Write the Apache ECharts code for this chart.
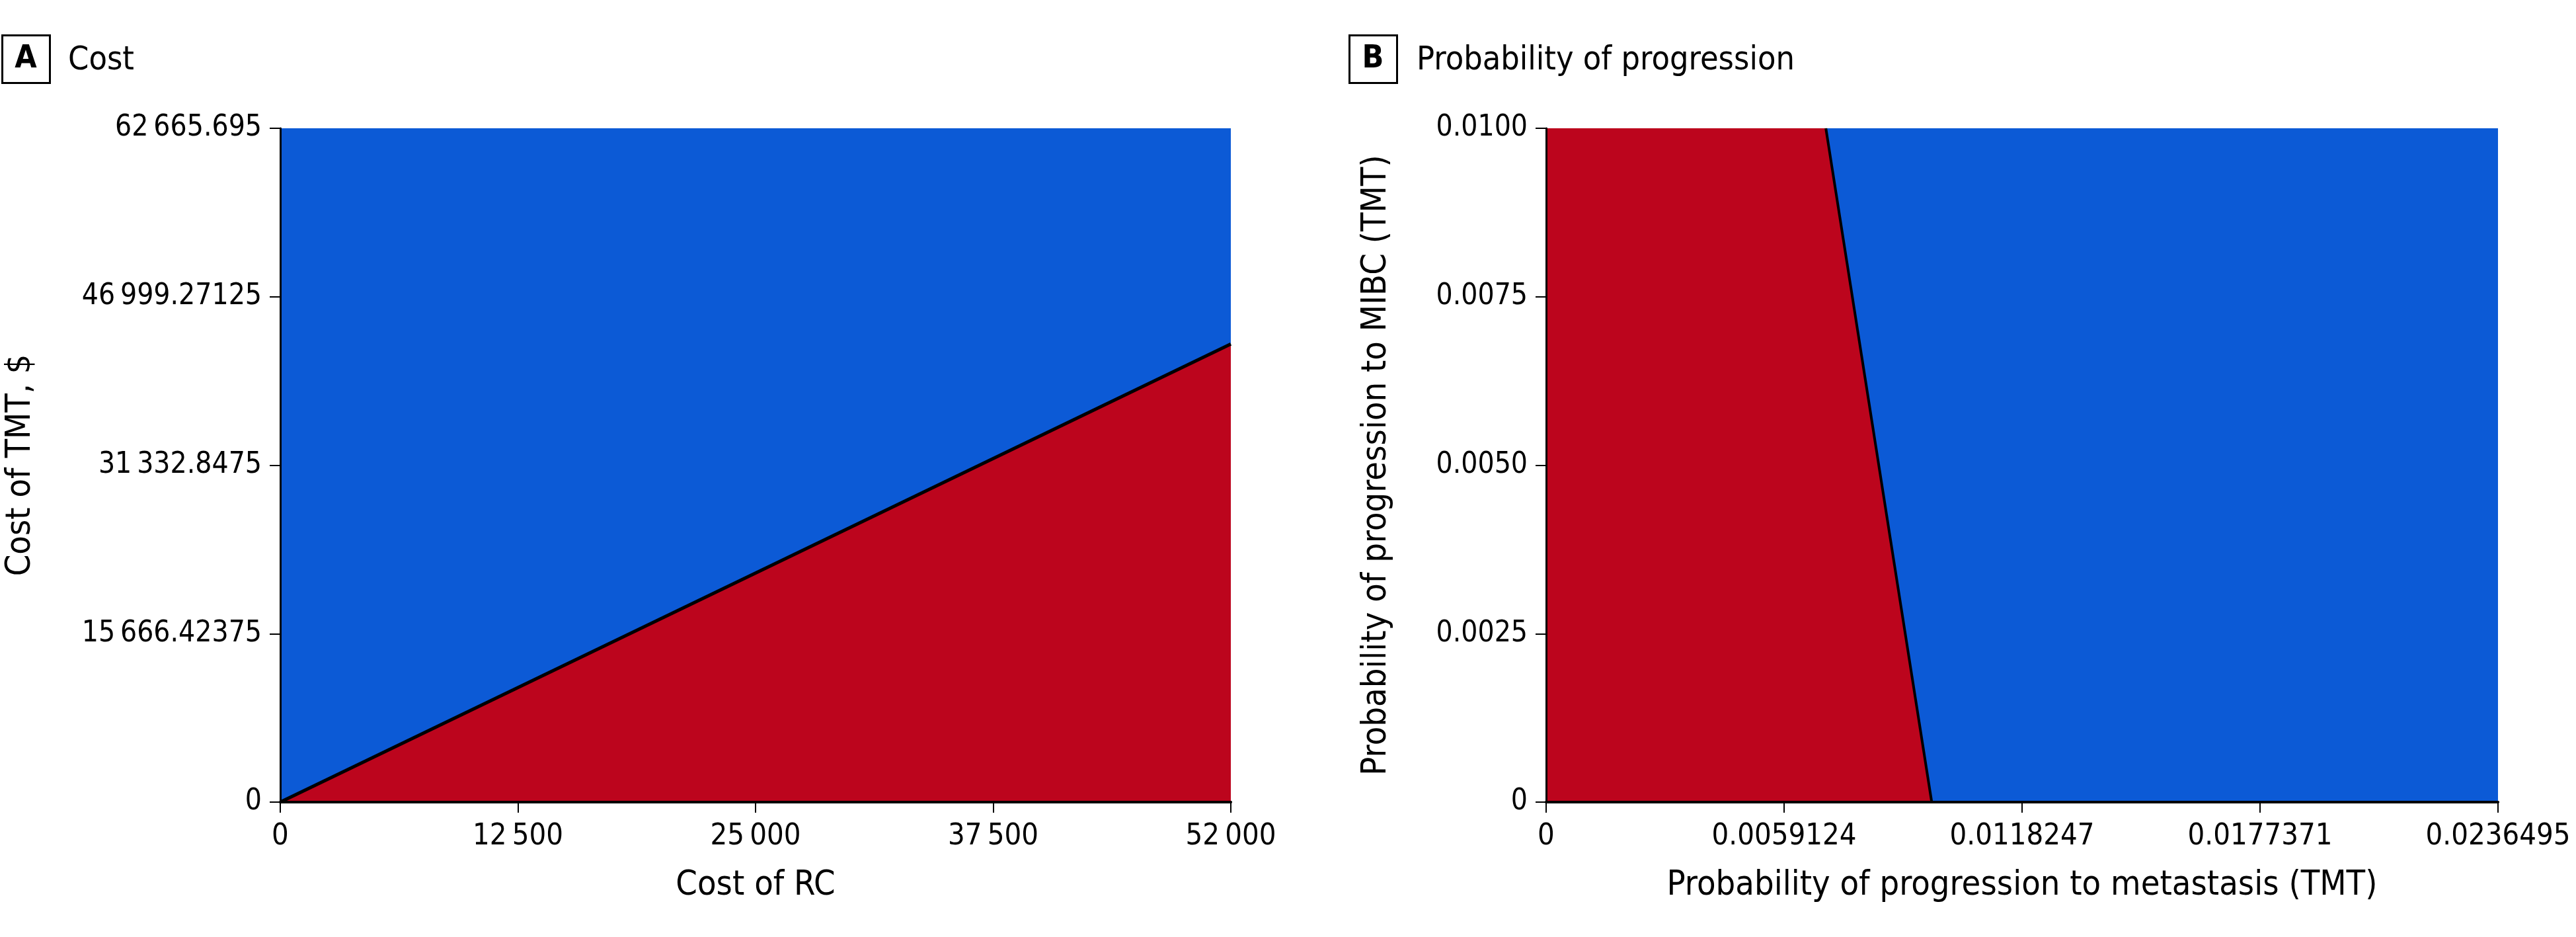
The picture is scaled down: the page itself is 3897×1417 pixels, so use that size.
<!DOCTYPE html>
<html>
<head>
<meta charset="utf-8">
<script src="https://cdn.jsdelivr.net/npm/echarts@6/dist/echarts.min.js"></script>
<style>
  html, body { margin: 0; padding: 0; background: #fff; }
  #chart { width: 3897px; height: 1417px; }
</style>
</head>
<body>
<div id="chart"></div>
<script>
// panel A: cost
var costRCRange = [0, 52000];
var costTMTMax = 62665.695;
var costThresholdTMT = [0, 42600];          // threshold line at cost of RC = 0 and 52000
var aXTickLabels = ['0', '12\u2009500', '25\u2009000', '37\u2009500', '52\u2009000'];
var aYTickLabels = ['0', '15\u2009666.42375', '31\u2009332.8475', '46\u2009999.27125', '62\u2009665.695'];

// panel B: probability of progression
var probMetMax = 0.0236495;
var probMIBCMax = 0.01;
var boundaryMet = [0.00695, 0.00958];       // metastasis prob at top / bottom of the boundary
var boundaryMIBC = [0.01, 0];
var bXTickLabels = ['0', '0.0059124', '0.0118247', '0.0177371', '0.0236495'];
var bYTickLabels = ['0', '0.0025', '0.0050', '0.0075', '0.0100'];

var BLUE = '#0C5AD6';
var RED = '#BC051D';
var FONT = '"Liberation Sans Narrow", "DejaVu Sans Condensed", sans-serif';

function labeler(list, step) {
    return function (v) {
        var i = Math.round(v / step);
        return list[i] !== undefined ? list[i] : '';
    };
}

function mainX(grid, max, step, labels, name) {
    return {
        type: 'value', gridIndex: grid, min: 0, max: max, interval: step, z: 5,
        name: name, nameLocation: 'middle', nameGap: 100,
        nameTextStyle: { fontFamily: FONT, fontSize: 52, color: '#000' },
        axisLine: { lineStyle: { color: '#000', width: 4 } },
        axisTick: { length: 16, lineStyle: { color: '#000', width: 2 } },
        axisLabel: { margin: 30, fontFamily: FONT, fontSize: 45, color: '#000', formatter: labeler(labels, step) },
        splitLine: { show: false }
    };
}

function mainY(grid, max, step, labels, name, gap) {
    return {
        type: 'value', gridIndex: grid, min: 0, max: max, interval: step, z: 5,
        name: name, nameLocation: 'middle', nameGap: gap, nameRotate: 90,
        nameTextStyle: { fontFamily: FONT, fontSize: 52, color: '#000' },
        axisLine: { lineStyle: { color: '#000', width: 3 } },
        axisTick: { length: 16, lineStyle: { color: '#000', width: 2 } },
        axisLabel: { margin: 28, fontFamily: FONT, fontSize: 44, color: '#000', formatter: labeler(labels, step) },
        splitLine: { show: false }
    };
}

function borderAxis(grid, max, pos, color, width) {
    return {
        type: 'value', gridIndex: grid, min: 0, max: max, position: pos, z: 4,
        axisLine: { show: true, lineStyle: { color: color, width: width } },
        axisTick: { show: false }, axisLabel: { show: false }, splitLine: { show: false }
    };
}

function area(xi, yi, data, color, lineColor, lineWidth) {
    return {
        type: 'line', xAxisIndex: xi, yAxisIndex: yi, data: data,
        symbol: 'none', silent: true,
        lineStyle: { color: lineColor || color, width: lineWidth || 0 },
        areaStyle: { color: color, opacity: 1 }
    };
}

var chart = echarts.init(document.getElementById('chart'));

var option = {
    animation: false,
    backgroundColor: '#fff',
    grid: [
        { left: 424, right: 2035, top: 194, height: 1019 },
        { left: 2339, right: 118, top: 194, height: 1019 }
    ],
    xAxis: [
        mainX(0, costRCRange[1], costRCRange[1] / 4, aXTickLabels, 'Cost of RC'),
        borderAxis(0, costRCRange[1], 'top', '#b0b0b0', 4),
        mainX(1, probMetMax, probMetMax / 4, bXTickLabels, 'Probability of progression to metastasis (TMT)'),
        borderAxis(1, probMetMax, 'top', '#b0b0b0', 4)
    ],
    yAxis: [
        mainY(0, costTMTMax, costTMTMax / 4, aYTickLabels, 'Cost of TMT, $', 367),
        borderAxis(0, costTMTMax, 'right', '#555', 2),
        mainY(1, probMIBCMax, probMIBCMax / 4, bYTickLabels, 'Probability of progression to MIBC (TMT)', 231),
        borderAxis(1, probMIBCMax, 'right', '#333', 2)
    ],
    series: [
        area(0, 0, [[costRCRange[0], costTMTMax], [costRCRange[1], costTMTMax]], BLUE),
        area(0, 0, [[costRCRange[0], costThresholdTMT[0]], [costRCRange[1], costThresholdTMT[1]]], RED, '#000', 5),
        area(2, 2, [[0, probMIBCMax], [probMetMax, probMIBCMax]], BLUE),
        area(2, 2, [[0, probMIBCMax], [boundaryMet[0], boundaryMIBC[0]], [boundaryMet[1], boundaryMIBC[1]]], RED),
        {
            type: 'line', xAxisIndex: 2, yAxisIndex: 2, symbol: 'none', silent: true,
            data: [[boundaryMet[0], boundaryMIBC[0]], [boundaryMet[1], boundaryMIBC[1]]],
            lineStyle: { color: '#000', width: 4 }
        }
    ],
    graphic: [
        { type: 'rect', left: 2, top: 52, shape: { width: 72, height: 72 }, style: { fill: '#fff', stroke: '#000', lineWidth: 3 } },
        { type: 'text', x: 39, y: 90, style: { text: 'A', font: 'bold 48px ' + FONT, fill: '#000', textAlign: 'center', textVerticalAlign: 'middle' } },
        { type: 'text', x: 103, y: 92, style: { text: 'Cost', font: '50px ' + FONT, fill: '#000', textVerticalAlign: 'middle' } },
        { type: 'rect', left: 2040, top: 52, shape: { width: 72, height: 72 }, style: { fill: '#fff', stroke: '#000', lineWidth: 3 } },
        { type: 'text', x: 2077, y: 90, style: { text: 'B', font: 'bold 48px ' + FONT, fill: '#000', textAlign: 'center', textVerticalAlign: 'middle' } },
        { type: 'text', x: 2143, y: 92, style: { text: 'Probability of progression', font: '50px ' + FONT, fill: '#000', textVerticalAlign: 'middle' } }
    ]
};

chart.setOption(option);
</script>
</body>
</html>
